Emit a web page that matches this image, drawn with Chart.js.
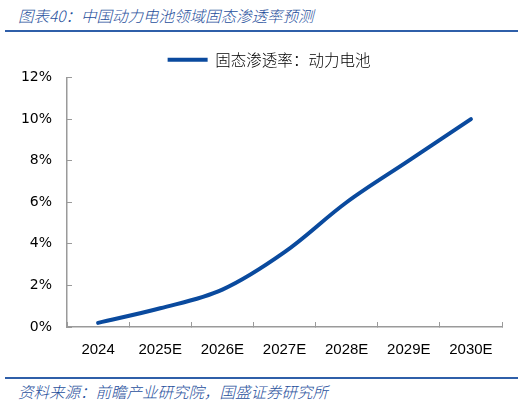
<!DOCTYPE html>
<html>
<head>
<meta charset="utf-8">
<script src="https://cdn.jsdelivr.net/npm/chart.js@4.4.0/dist/chart.umd.min.js"></script>
<style>
  body { margin: 0; background: #fff; }
  #wrap { position: relative; width: 526px; height: 403px; overflow: hidden; }
  #title {
    position: absolute; left: 18px; top: 4px;
    font: italic 300 15.5px "Noto Sans CJK SC", sans-serif; color: #1f4f9c;
    white-space: nowrap;
  }
  #title-rule { position: absolute; left: 5px; top: 30px; width: 513px; height: 2px; background: #2f5fa9; }
  #foot-rule { position: absolute; left: 5px; top: 377px; width: 513px; height: 2px; background: #2f5fa9; }
  #foot {
    position: absolute; left: 18px; top: 380px;
    font: italic 300 15.5px "Noto Sans CJK SC", sans-serif; color: #1f4f9c;
    white-space: nowrap;
  }
  #box { position: absolute; left: 0; top: 40px; width: 526px; height: 330px; }
</style>
</head>
<body>
<div id="wrap">
  <div id="title">图表40：中国动力电池领域固态渗透率预测</div>
  <div id="title-rule"></div>
  <div id="box"><canvas id="chart"></canvas></div>
  <div id="foot-rule"></div>
  <div id="foot">资料来源：前瞻产业研究院，国盛证券研究所</div>
</div>
<script>
// categories and values
const years = ["2024", "2025E", "2026E", "2027E", "2028E", "2029E", "2030E"];
const penetration = [0.2, 0.9, 1.8, 3.6, 6.0, 8.0, 10.0];
const seriesName = "固态渗透率：动力电池";

const axisGrey = "#9a9a9a";

// the original legend sits a bit right of the canvas centre
const nudgeLegend = {
  id: "nudgeLegend",
  afterLayout(chart) {
    chart.legend.left += 18;
    chart.legend.right += 18;
  }
};

new Chart(document.getElementById("chart"), {
  type: "line",
  data: {
    labels: years,
    datasets: [{
      label: seriesName,
      data: penetration,
      borderColor: "#0a4a9e",
      backgroundColor: "#0a4a9e",
      borderWidth: 4,
      pointRadius: 0,
      tension: 0.35,
      borderCapStyle: "round"
    }]
  },
  plugins: [nudgeLegend],
  options: {
    responsive: true,
    maintainAspectRatio: false,
    animation: false,
    layout: { padding: { left: 0, right: 24, top: 0, bottom: 0 } },
    plugins: {
      legend: {
        display: true,
        position: "top",
        labels: {
          usePointStyle: true,
          pointStyle: "line",
          pointStyleWidth: 40,
          color: "#000",
          font: { family: "Noto Sans CJK SC", size: 15.5, weight: 300 },
          padding: 12
        }
      },
      tooltip: { enabled: false }
    },
    scales: {
      x: {
        offset: true,
        grid: {
          offset: true,
          drawOnChartArea: false,
          tickLength: -5,
          color: axisGrey
        },
        border: { color: axisGrey, width: 1.5 },
        ticks: {
          color: "#000",
          padding: 19,
          font: { family: "Liberation Sans", size: 15 }
        },
        afterFit: s => { s.height = 43; }
      },
      y: {
        min: 0,
        max: 12,
        ticks: {
          stepSize: 2,
          color: "#000",
          padding: 20,
          font: { family: "DejaVu Sans", size: 14 },
          callback: v => v + "%"
        },
        grid: {
          drawOnChartArea: false,
          tickLength: -5,
          color: axisGrey
        },
        border: { color: axisGrey, width: 1.5 },
        afterFit: s => { s.width = 67; }
      }
    }
  }
});
</script>
</body>
</html>
